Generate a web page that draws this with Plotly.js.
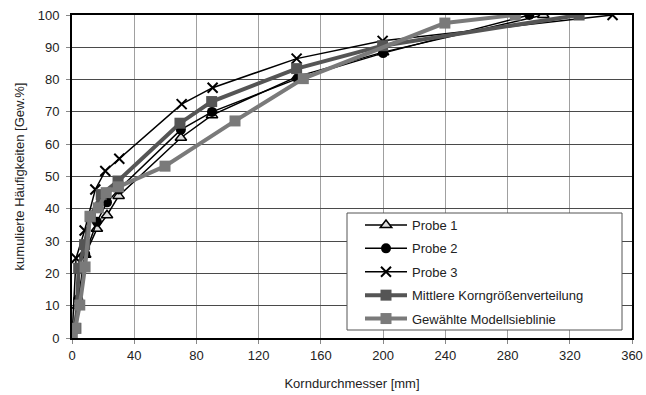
<!DOCTYPE html>
<html>
<head>
<meta charset="utf-8">
<script src="https://cdn.plot.ly/plotly-3.0.1.min.js"></script>
<style>html,body{margin:0;padding:0;background:#fff}#chart{width:646px;height:395px}</style>
</head>
<body>
<div id="chart"></div>
<script>
var names = ["Probe 1", "Probe 2", "Probe 3", "Mittlere Korngrößenverteilung", "Gewählte Modellsieblinie"];

var probe1X = [0, 4, 8.5, 16, 22.5, 30, 70, 90, 145, 200, 303];
var probe1Y = [0, 10, 25.8, 33.8, 38, 44, 62, 69, 81, 88.5, 100];

var probe2X = [0, 4, 8.5, 16, 22.5, 30, 70, 90, 145, 200, 294];
var probe2Y = [0, 12, 26, 36, 42, 46, 64.5, 70, 80.3, 88.2, 100];

var probe3X = [0, 2.6, 8.1, 15, 21.4, 30.4, 70.5, 90.4, 144.4, 199.7, 347.5];
var probe3Y = [0, 24.7, 33.3, 46, 51.7, 55.5, 72.4, 77.5, 86.5, 92, 100];

var mittelX = [0, 2.5, 4.3, 8.1, 11.8, 18.8, 29.6, 69.4, 89.8, 144.4, 199.7, 326];
var mittelY = [0, 3, 21.6, 28.9, 37.5, 44.4, 48.6, 66.5, 73.2, 83.4, 90.5, 100];

var modellX = [0, 2, 5, 8.4, 11.6, 16.9, 22, 29.8, 59.8, 104.8, 148.7, 239.7, 285];
var modellY = [0, 3, 10.2, 22, 37.7, 40.3, 45, 46.8, 53.2, 67.2, 80.3, 97.5, 100];

var xTicks = [0, 40, 80, 120, 160, 200, 240, 280, 320, 360];
var yTicks = [0, 10, 20, 30, 40, 50, 60, 70, 80, 90, 100];

var traces = [
  {x: probe1X, y: probe1Y, name: names[0], legendgroup: "g1", mode: "lines+markers",
   line: {color: "#000", width: 1.5},
   marker: {symbol: "triangle-up", size: 10, color: "#ddd", line: {color: "#000", width: 1.5}}},
  {x: probe2X, y: probe2Y, name: names[1], legendgroup: "g2", mode: "lines+markers",
   line: {color: "#000", width: 1.5},
   marker: {symbol: "circle", size: 10, color: "#000"}},
  {x: probe3X, y: probe3Y, name: names[2], legendgroup: "g3", mode: "lines+markers",
   line: {color: "#000", width: 1.5},
   marker: {symbol: "x-thin-open", size: 10, color: "#000", line: {color: "#000", width: 2}}},
  {x: mittelX, y: mittelY, name: names[3], legendgroup: "g4", mode: "lines+markers",
   line: {color: "#555", width: 4},
   marker: {symbol: "square", size: 11, color: "#555"}},
  {x: modellX, y: modellY, name: names[4], legendgroup: "g5", mode: "lines+markers",
   line: {color: "#7a7a7a", width: 4},
   marker: {symbol: "square", size: 11, color: "#7a7a7a"}}
];

var font = {family: "Liberation Sans, Arial, sans-serif", size: 13, color: "#222"};

var layout = {
  width: 646, height: 395,
  margin: {l: 72, r: 14, t: 15, b: 57},
  paper_bgcolor: "#fff", plot_bgcolor: "#fff",
  font: font,
  showlegend: true,
  xaxis: {
    range: [0, 360], tickvals: xTicks, ticktext: xTicks.map(String),
    showgrid: true, gridcolor: "#a0a0a0", gridwidth: 1,
    zeroline: false, showline: true, linecolor: "#000", linewidth: 2, mirror: true,
    ticks: "outside", ticklen: 4, tickcolor: "#888",
    title: {text: "Korndurchmesser [mm]", font: font, standoff: 17}
  },
  yaxis: {
    range: [0, 100], tickvals: yTicks, ticktext: yTicks.map(String),
    showgrid: true, gridcolor: "#4a4a4a", gridwidth: 1,
    zeroline: false, showline: true, linecolor: "#000", linewidth: 2, mirror: true,
    ticks: "outside", ticklen: 4, tickcolor: "#888", ticklabelstandoff: 4,
    title: {text: "kumulierte Häufigkeiten [Gew.%]", font: font, standoff: 10}
  },
  shapes: [{
    type: "rect", xref: "paper", yref: "paper",
    x0: (347 - 72) / 560, x1: (622 - 72) / 560,
    y0: (338 - 330) / 323, y1: (338 - 213) / 323,
    fillcolor: "#fff", line: {color: "#555", width: 1}, layer: "above"
  }],
  legend: {
    x: (360 - 72) / 560, y: (338 - 210) / 323, xanchor: "left", yanchor: "top",
    bgcolor: "rgba(0,0,0,0)", borderwidth: 0,
    font: font, tracegroupgap: 3.5, itemwidth: 42
  }
};

Plotly.newPlot("chart", traces, layout, {displayModeBar: false, staticPlot: true});
</script>
</body>
</html>
